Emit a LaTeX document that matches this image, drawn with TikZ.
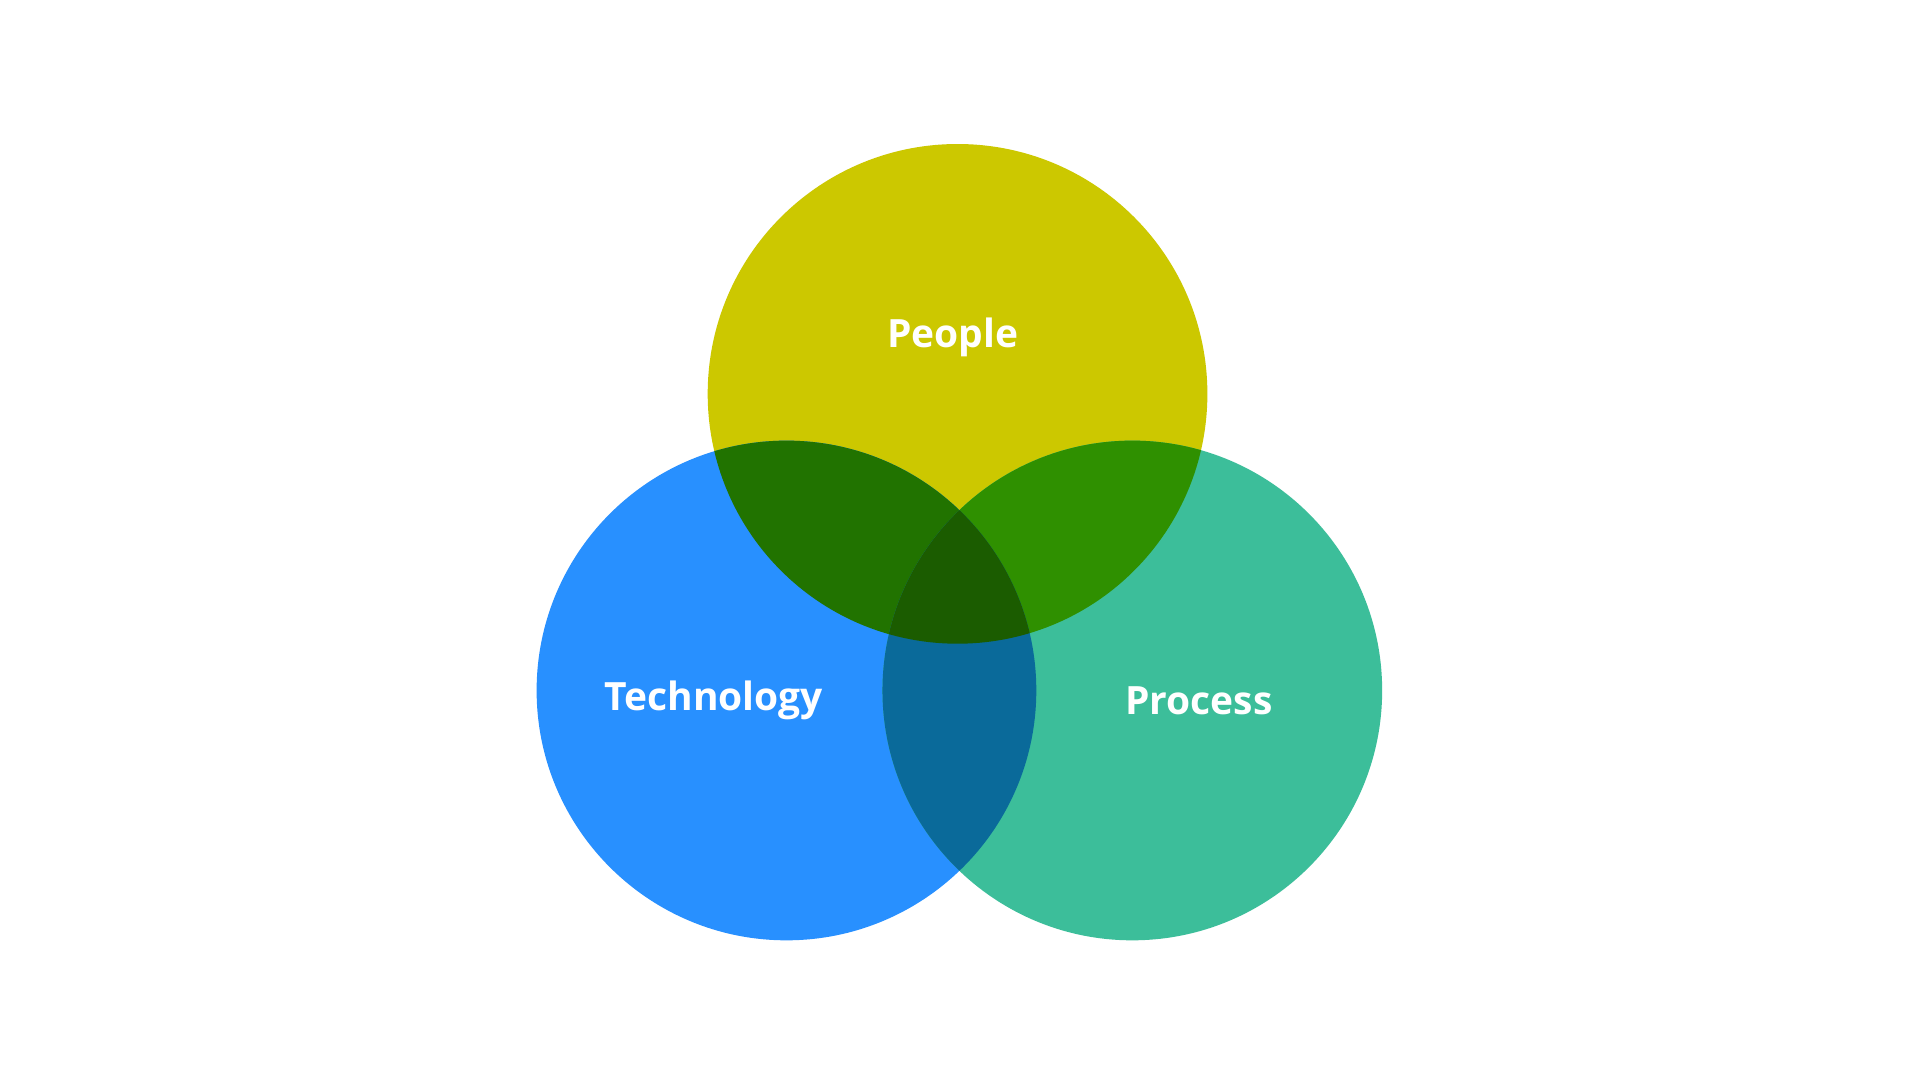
\documentclass[tikz,border=0pt]{standalone}
\usepackage{fontspec}
\setmainfont{Open Sans}
\definecolor{cpeople}{HTML}{CCC800}
\definecolor{ctech}{HTML}{2890FF}
\definecolor{cproc}{HTML}{3CBE9A}
\definecolor{cpt}{HTML}{217300}
\definecolor{cpp}{HTML}{2F9000}
\definecolor{ctp}{HTML}{0A6A9A}
\definecolor{call}{HTML}{1B5C00}
\tikzset{lbl/.style={text=white,font=\bfseries\fontsize{9}{10}\selectfont}}
\begin{document}
\begin{tikzpicture}[x=0.01cm,y=-0.01cm]
\useasboundingbox[fill=white] (0,0) rectangle (1560,878);
\def\rr{203}
\fill[cpeople] (778,320) circle (\rr);
\fill[ctech] (639,561) circle (\rr);
\fill[cproc] (920,561) circle (\rr);
\begin{scope}\clip (778,320) circle (\rr); \fill[cpt] (639,561) circle (\rr);\end{scope}
\begin{scope}\clip (778,320) circle (\rr); \fill[cpp] (920,561) circle (\rr);\end{scope}
\begin{scope}\clip (639,561) circle (\rr); \fill[ctp] (920,561) circle (\rr);\end{scope}
\begin{scope}\clip (778,320) circle (\rr); \clip (639,561) circle (\rr); \fill[call] (920,561) circle (\rr);\end{scope}
\node[lbl] (people) at (774,274) {People};
\node[lbl] (tech) at (580,569) {Technology};
\node[lbl] (proc) at (974,569) {Process};
\end{tikzpicture}
\end{document}
